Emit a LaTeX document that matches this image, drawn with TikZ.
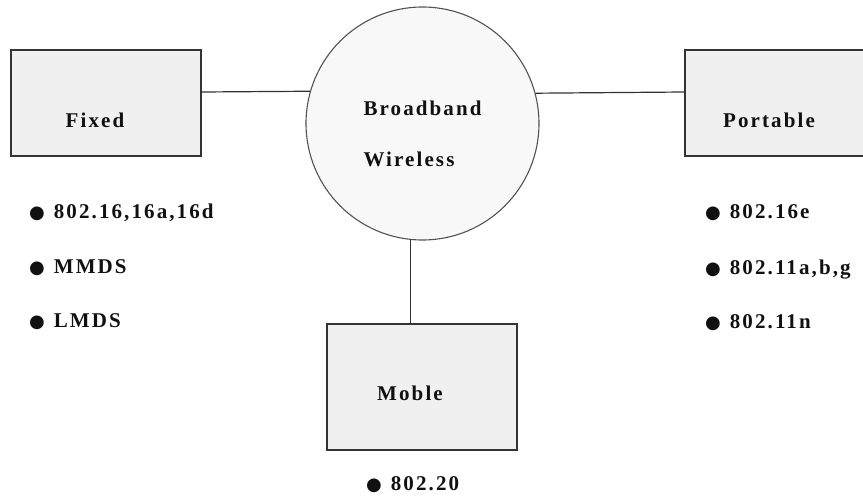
\documentclass[tikz,border=0pt]{standalone}
\usepackage{fontspec}
\setmainfont{Liberation Serif}
\newfontfamily\lblfont{Liberation Serif Bold}[LetterSpace=10]
\newfontfamily\dotfont{DejaVu Sans}
\usepackage{tikz}
\usetikzlibrary{positioning}
\definecolor{boxfill}{HTML}{F0F0F0}
\definecolor{ringfill}{HTML}{F8F8F8}
\definecolor{edge}{HTML}{333333}
\definecolor{ink}{HTML}{111111}
\newcommand{\blt}{{\dotfont\fontsize{18}{18}\selectfont ●}\hspace{9pt}}
\tikzset{
	unit/.style={draw=edge, line width=1.4pt, fill=boxfill,
		minimum width=190pt, minimum height=106pt, inner sep=0pt},
	hub/.style={circle, draw=edge!85, line width=1.1pt, fill=ringfill,
		minimum size=233pt, inner sep=0pt},
	lbl/.style={text=ink, font=\lblfont\fontsize{21}{51}\selectfont, inner sep=0pt},
	item/.style={lbl, anchor=west},
	link/.style={draw=edge, line width=1.2pt},
}
\begin{document}
\begin{tikzpicture}[x=1pt, y=-1pt]
	\useasboundingbox (0,0) rectangle (863,497);
	\clip (0,0) rectangle (863,497);
	\node[hub, label={[lbl, align=left, yshift=-10pt]center:Broadband\\Wireless}] (bw) at (422.5,123.5) {};
	\node[unit, label={[lbl, xshift=-11pt, yshift=-17pt]center:Fixed}] (fixed) at (106,103) {};
	\node[unit, label={[lbl, xshift=-11pt, yshift=-17pt]center:Portable}] (port) at (780,103) {};
	\node[unit, minimum height=126pt, label={[lbl, xshift=-12pt, yshift=-6pt]center:Moble}] (mob) at (422,387) {};
	% bullet lists
	\node[item] (f1) at (29,213) {\blt 802.16,16a,16d};
	\node[item] (f2) at (29,268) {\blt MMDS};
	\node[item] (f3) at (29,322) {\blt LMDS};
	\node[item] (p1) at (705,213) {\blt 802.16e};
	\node[item] (p2) at (705,270) {\blt 802.11a,b,g};
	\node[item] (p3) at (705,323) {\blt 802.11n};
	\node[item] (m1) at (366,485) {\blt 802.20};
	% links
	\draw[link] ([yshift=11pt]fixed.east) -- (bw.164.3);
	\draw[link] (bw.15.7) -- ([yshift=11pt]port.west);
	\draw[link] (bw.264.8) -- (bw.264.8 |- mob.north);
\end{tikzpicture}
\end{document}
